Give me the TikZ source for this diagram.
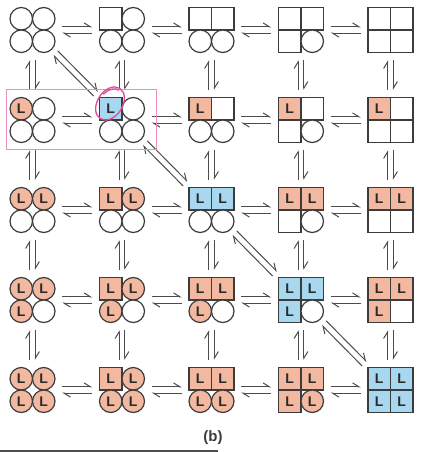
\documentclass[tikz,border=0pt]{standalone}
\usepackage{fontspec}
\newfontfamily\hv{Liberation Sans}
\usetikzlibrary{arrows.meta}
\definecolor{salm}{HTML}{F3B9A0}
\definecolor{lblue}{HTML}{A8D8F0}
\definecolor{outl}{HTML}{3C3C3C}
\definecolor{ltext}{HTML}{2A2A2A}
\definecolor{agray}{HTML}{4C4C4C}
\definecolor{pinkbox}{HTML}{F08CC4}
\definecolor{pinkpen}{HTML}{E5479A}
\newcommand\mol[7]{%
  \node[molbox] (#1) at (#2,#3) {};
  \node (#1a) at (#2-11.25,#3-11.25) [#4];
  \node (#1b) at (#2+11.25,#3-11.25) [#5];
  \node (#1c) at (#2-11.25,#3+11.25) [#6];
  \node (#1d) at (#2+11.25,#3+11.25) [#7];
}
\begin{document}
\begin{tikzpicture}[x=1pt,y=-1pt,
  molbox/.style={rectangle, minimum width=45pt, minimum height=45pt, inner sep=0pt},
  unit/.style={minimum size=22.5pt, inner sep=0pt, draw=outl, line width=1.2pt,
    font=\hv\bfseries\fontsize{14}{14}\selectfont, text=ltext},
  uc/.style={unit, circle, fill=white, node contents={}},
  uC/.style={unit, circle, fill=salm, node contents={L}},
  us/.style={unit, rectangle, fill=white, node contents={}},
  uS/.style={unit, rectangle, fill=salm, node contents={L}},
  uB/.style={unit, rectangle, fill=lblue, node contents={L}},
  harp/.style={draw=agray, line width=1pt, -{Straight Barb[left,length=6.5pt,width=8pt]}},
  hshort/.style={shorten <=7pt, shorten >=7pt},
  vshort/.style={shorten <=7.5pt, shorten >=7.5pt},
  penline/.style={draw=pinkpen, line width=1.3pt, line cap=round}]
\fill[white] (0,0) rectangle (431,452);
\useasboundingbox (0,0) rectangle (431,452);
% row 1
\mol{m11}{32.5}{30}{uc}{uc}{uc}{uc}
\mol{m12}{122}{30}{us}{uc}{uc}{uc}
\mol{m13}{211.5}{30}{us}{us}{uc}{uc}
\mol{m14}{301}{30}{us}{us}{us}{uc}
\mol{m15}{390.5}{30}{us}{us}{us}{us}
% row 2
\mol{m21}{32.5}{120}{uC}{uc}{uc}{uc}
\mol{m22}{122}{120}{uB}{uc}{uc}{uc}
\mol{m23}{211.5}{120}{uS}{us}{uc}{uc}
\mol{m24}{301}{120}{uS}{us}{us}{uc}
\mol{m25}{390.5}{120}{uS}{us}{us}{us}
% row 3
\mol{m31}{32.5}{210}{uC}{uC}{uc}{uc}
\mol{m32}{122}{210}{uS}{uC}{uc}{uc}
\mol{m33}{211.5}{210}{uB}{uB}{uc}{uc}
\mol{m34}{301}{210}{uS}{uS}{us}{uc}
\mol{m35}{390.5}{210}{uS}{uS}{us}{us}
% row 4
\mol{m41}{32.5}{300}{uC}{uC}{uC}{uc}
\mol{m42}{122}{300}{uS}{uC}{uC}{uc}
\mol{m43}{211.5}{300}{uS}{uS}{uC}{uc}
\mol{m44}{301}{300}{uB}{uB}{uB}{uc}
\mol{m45}{390.5}{300}{uS}{uS}{uS}{us}
% row 5
\mol{m51}{32.5}{390}{uC}{uC}{uC}{uC}
\mol{m52}{122}{390}{uS}{uC}{uC}{uC}
\mol{m53}{211.5}{390}{uS}{uS}{uC}{uC}
\mol{m54}{301}{390}{uS}{uS}{uS}{uC}
\mol{m55}{390.5}{390}{uB}{uB}{uB}{uB}
% horizontal equilibria
\foreach \r in {1,...,5}{
  \foreach \c/\n in {1/2,2/3,3/4,4/5}{
    \draw[harp,hshort] ([yshift=3.1pt]m\r\c.east) -- ([yshift=3.1pt]m\r\n.west);
    \draw[harp,hshort] ([yshift=-3.1pt]m\r\n.west) -- ([yshift=-3.1pt]m\r\c.east);
  }}
% vertical equilibria
\foreach \c in {1,...,5}{
  \foreach \r/\n in {1/2,2/3,3/4,4/5}{
    \draw[harp,vshort] ([xshift=-2.9pt]m\n\c.north) -- ([xshift=-2.9pt]m\r\c.south);
    \draw[harp,vshort] ([xshift=2.9pt]m\r\c.south) -- ([xshift=2.9pt]m\n\c.north);
  }}
% diagonal equilibria
\foreach \a/\b in {m11/m22,m22/m33,m33/m44,m44/m55}{
  \draw[harp, shorten <=0.5pt, shorten >=5pt] ([xshift=2.2pt,yshift=2.2pt]\a.south east) -- ([xshift=2.2pt,yshift=2.2pt]\b.north west);
  \draw[harp, shorten <=5pt, shorten >=0.5pt] ([xshift=-2.2pt,yshift=-2.2pt]\b.north west) -- ([xshift=-2.2pt,yshift=-2.2pt]\a.south east);
}
% pink annotation
\draw[pinkbox, line width=0.9pt] (6,89) rectangle (156,149);
\draw[penline, rotate around={56.7:(110,103.5)}] (110,103.5) ellipse [x radius=18, y radius=12.5];
\draw[penline, rotate around={56.7:(110,103.5)}] (126,103.5) arc[start angle=0, end angle=-75, x radius=16, y radius=11];
% caption
\node[font=\hv\bfseries\fontsize{15}{15}\selectfont, text=outl] (lbl) at (213,438) {(b)};
\draw[agray, line width=1.3pt] (0,451) -- (218,451);
\end{tikzpicture}
\end{document}
